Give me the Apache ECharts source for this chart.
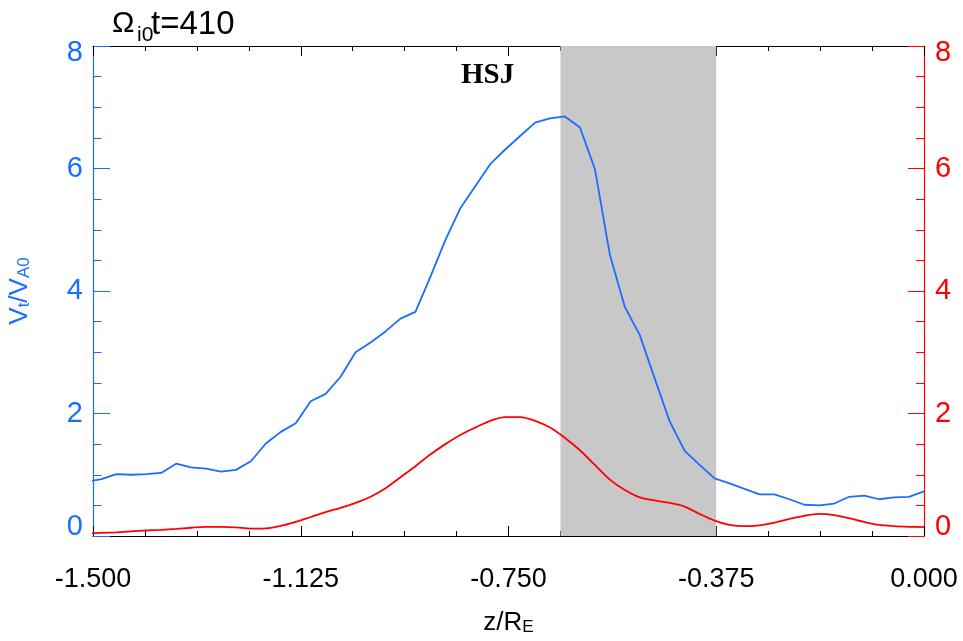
<!DOCTYPE html>
<html>
<head>
<meta charset="utf-8">
<script src="https://cdn.jsdelivr.net/npm/echarts@6/dist/echarts.min.js"></script>
<style>html,body{margin:0;padding:0;background:#fff;}#c{width:963px;height:641px;}</style>
</head>
<body>
<div id="c"></div>
<script>
// z / R_E sample positions
var zValues = [-1.512,-1.485,-1.458,-1.431,-1.404,-1.377,-1.350,-1.323,-1.296,-1.269,-1.242,-1.215,-1.188,-1.161,-1.134,-1.107,-1.080,-1.053,-1.026,-0.999,-0.972,-0.945,-0.918,-0.891,-0.864,-0.837,-0.810,-0.783,-0.756,-0.729,-0.702,-0.675,-0.648,-0.621,-0.594,-0.567,-0.540,-0.513,-0.486,-0.459,-0.432,-0.405,-0.378,-0.351,-0.324,-0.297,-0.270,-0.243,-0.216,-0.189,-0.162,-0.135,-0.108,-0.081,-0.054,-0.027,0.000];
// V_t / V_A0 (blue, left axis)
var vtValues = [0.88,0.93,1.01,1.00,1.01,1.03,1.18,1.12,1.10,1.05,1.08,1.22,1.51,1.70,1.84,2.20,2.32,2.60,3.00,3.16,3.34,3.55,3.66,4.23,4.83,5.35,5.71,6.07,6.31,6.53,6.75,6.82,6.85,6.67,5.99,4.59,3.74,3.28,2.57,1.87,1.39,1.16,0.94,0.86,0.77,0.68,0.68,0.60,0.51,0.50,0.53,0.64,0.66,0.60,0.63,0.64,0.73];
// red curve (right axis)
var redValues = [0.04,0.05,0.06,0.075,0.09,0.10,0.115,0.135,0.15,0.15,0.14,0.12,0.125,0.165,0.23,0.31,0.39,0.46,0.54,0.64,0.78,0.96,1.14,1.33,1.50,1.65,1.77,1.88,1.94,1.94,1.88,1.77,1.60,1.40,1.16,0.92,0.75,0.63,0.58,0.54,0.48,0.36,0.25,0.18,0.16,0.175,0.22,0.28,0.33,0.36,0.34,0.29,0.23,0.18,0.16,0.15,0.145];
// x tick labels and shaded HSJ region
var xTicks = [-1.5,-1.125,-0.75,-0.375,0];
var yTicks = [0,2,4,6,8];
var hsjStart = -0.65625, hsjEnd = -0.375;

var BLUE = '#196eff', RED = '#ff0000';
var FONT = 'Liberation Sans';

function pairs(xs, ys){ return xs.map(function(x,i){ return [x, ys[i]]; }); }

var chart = echarts.init(document.getElementById('c'), null, {renderer:'canvas'});

function yLabelFmt(v){
  if (v === 8) return '{t|8}';
  if (v === 0) return '{b|0}';
  return '{n|' + v + '}';
}
function yRich(color){
  return {
    t:{fontSize:29, color:color, fontFamily:FONT, padding:[14,0,0,0]},
    b:{fontSize:29, color:color, fontFamily:FONT, padding:[0,0,18,0]},
    n:{fontSize:29, color:color, fontFamily:FONT}
  };
}

var option = {
  animation:false,
  backgroundColor:'#fff',
  grid:{left:93, right:39, top:46, bottom:105, containLabel:false, outerBoundsMode:'none'},
  xAxis:[{
    type:'value', min:xTicks[0], max:xTicks[xTicks.length-1], interval:0.375, position:'bottom',
    axisLine:{show:true, onZero:false, lineStyle:{color:'#000', width:1.2}},
    axisTick:{show:true, inside:false, length:-10, lineStyle:{color:'#000'}},
    minorTick:{show:true, splitNumber:4, length:-5, lineStyle:{color:'#000'}},
    splitLine:{show:false},
    axisLabel:{margin:30, fontSize:27, color:'#000', fontFamily:FONT,
      formatter:function(v){ return v.toFixed(3); }},
    name:'z/R{s|E}', nameLocation:'middle', nameGap:74,
    nameTextStyle:{fontSize:26, color:'#000', fontFamily:FONT,
      rich:{s:{fontSize:17, color:'#000', fontFamily:FONT, verticalAlign:'bottom', lineHeight:18, padding:[14,0,0,0]}}}
  },{
    type:'value', min:xTicks[0], max:xTicks[xTicks.length-1], interval:0.375, position:'top',
    axisLine:{show:true, onZero:false, lineStyle:{color:'#000', width:1.2}},
    axisTick:{show:true, inside:false, length:-10, lineStyle:{color:'#000'}},
    minorTick:{show:true, splitNumber:4, length:-5, lineStyle:{color:'#000'}},
    splitLine:{show:false},
    axisLabel:{show:false}
  }],
  yAxis:[{
    type:'value', min:yTicks[0], max:yTicks[yTicks.length-1], interval:2, position:'left',
    axisLine:{show:true, onZero:false, lineStyle:{color:BLUE, width:1.2}},
    axisTick:{show:true, inside:false, length:-17, lineStyle:{color:BLUE}},
    minorTick:{show:true, splitNumber:4, length:-8.5, lineStyle:{color:BLUE}},
    splitLine:{show:false},
    axisLabel:{margin:10, formatter:yLabelFmt, rich:yRich(BLUE)},
    name:'V{s|t}/V{s|A0}', nameLocation:'middle', nameRotate:90, nameGap:60,
    nameTextStyle:{fontSize:26, color:BLUE, fontFamily:FONT,
      rich:{s:{fontSize:17, color:BLUE, fontFamily:FONT, verticalAlign:'bottom', lineHeight:18, padding:[14,0,0,0]}}}
  },{
    type:'value', min:yTicks[0], max:yTicks[yTicks.length-1], interval:2, position:'right',
    axisLine:{show:true, onZero:false, lineStyle:{color:RED, width:1.2}},
    axisTick:{show:true, inside:false, length:-16, lineStyle:{color:RED}},
    minorTick:{show:true, splitNumber:4, length:-8, lineStyle:{color:RED}},
    splitLine:{show:false},
    axisLabel:{margin:11, formatter:yLabelFmt, rich:yRich(RED)}
  }],
  series:[{
    type:'line', data:[], z:1, silent:true,
    markArea:{silent:true, itemStyle:{color:'#c8c8c8', opacity:1},
      data:[[{xAxis:hsjStart},{xAxis:hsjEnd}]]}
  },{
    name:'Vt', type:'line', xAxisIndex:0, yAxisIndex:0, z:3,
    data:pairs(zValues, vtValues), showSymbol:false, symbol:'none',
    lineStyle:{color:BLUE, width:1.8}
  },{
    name:'red', type:'line', xAxisIndex:0, yAxisIndex:1, z:3,
    data:pairs(zValues, redValues), showSymbol:false, symbol:'none', smooth:0.3,
    lineStyle:{color:RED, width:1.8}
  }],
  graphic:[
    {type:'text', left:112, top:9, z:10, style:{text:'Ω', font:'30px "Liberation Sans"', fill:'#000'}},
    {type:'text', left:137, top:25, z:10, style:{text:'i0', font:'21px "Liberation Sans"', fill:'#000'}},
    {type:'text', left:151, top:8, z:10, style:{text:'t=410', font:'33px "Liberation Sans"', fill:'#000'}},
    {type:'text', left:461, top:61, z:10, style:{text:'HSJ', font:'bold 29px "Liberation Serif"', fill:'#000'}}
  ]
};
chart.setOption(option);
</script>
</body>
</html>
